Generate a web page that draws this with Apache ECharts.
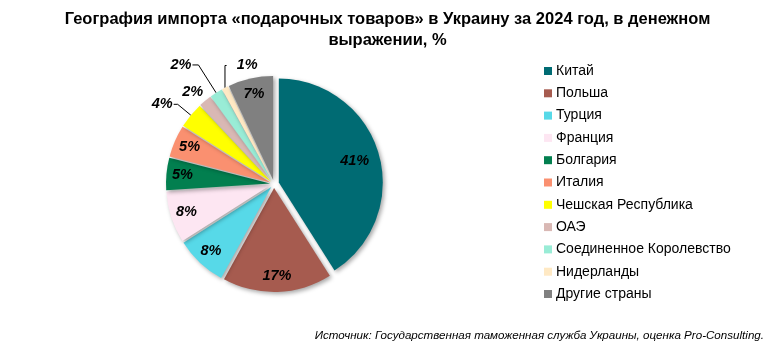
<!DOCTYPE html>
<html>
<head>
<meta charset="utf-8">
<script src="https://cdn.jsdelivr.net/npm/echarts@6/dist/echarts.min.js"></script>
<style>
  html, body { margin: 0; padding: 0; background: #fff; }
  #chart { width: 775px; height: 352px; }
</style>
</head>
<body>
<div id="chart"></div>
<script>
// данные диаграммы
var countries = ['Китай', 'Польша', 'Турция', 'Франция', 'Болгария', 'Италия',
  'Чешская Республика', 'ОАЭ', 'Соединенное Королевство', 'Нидерланды', 'Другие страны'];
var shares = [41, 17, 8, 8, 5, 5, 4, 2, 2, 1, 7];
var colors = ['#006b73', '#a65b4f', '#57d9e8', '#fde6f2', '#027f4f', '#fa9070',
  '#ffff00', '#d9b8b4', '#99ecd6', '#ffe9c4', '#808080'];

var myChart = echarts.init(document.getElementById('chart'));

var FONT = '"Liberation Sans", Arial, sans-serif';
var CENTER = [274, 184];
var R = 104;
var none = 'rgba(0,0,0,0)';
var shadow = {
  shadowBlur: 4,
  shadowOffsetX: 2,
  shadowOffsetY: 2,
  shadowColor: 'rgba(0,0,0,0.35)'
};
var labelFont = {
  fontFamily: FONT,
  fontSize: 14.5,
  fontWeight: 'bold',
  fontStyle: 'italic',
  color: '#000'
};

// маленькие сектора подписываются снаружи
// (у Нидерландов выноска уходит вправо и подпись стоит справа)
var outside = {
  'Чешская Республика': { length: 17, length2: 4, dist: 1, line: true },
  'ОАЭ': { length: 11, length2: 0, dist: -5, line: false },
  'Соединенное Королевство': { length: 33, length2: 6, dist: 1, line: true },
  'Нидерланды': { length: 25, length2: -13, dist: -31, line: true }
};

// основной пирог (без Китая)
var baseData = countries.map(function (n, i) {
  return {
    name: n,
    value: shares[i],
    selected: true,
    itemStyle: i === 0 ? { color: none, shadowColor: none } : { color: colors[i] }
  };
});

// Китай, выдвинут сильнее
function chinaOnly(visible) {
  return countries.map(function (n, i) {
    return {
      name: n,
      value: shares[i],
      selected: i === 0,
      label: { show: i === 0 && !visible },
      itemStyle: (i === 0 && visible) ? { color: colors[0] } : { color: none, shadowColor: none }
    };
  });
}

// подписи остальных секторов
var labelData = countries.map(function (n, i) {
  var o = outside[n];
  var item = {
    name: n,
    value: shares[i],
    selected: true,
    label: { show: i !== 0 },
    itemStyle: { color: none, shadowColor: none }
  };
  if (o) {
    item.label.position = 'outside';
    item.label.distanceToLabelLine = o.dist;
    item.labelLine = { show: o.line, length: o.length, length2: o.length2 };
  }
  return item;
});

var option = {
  animation: false,
  title: {
    text: 'География импорта «подарочных товаров» в Украину за 2024 год, в денежном\nвыражении, %',
    left: 'center',
    top: 4,
    textStyle: {
      fontFamily: FONT,
      fontSize: 16.5,
      fontWeight: 'bold',
      color: '#000',
      lineHeight: 21
    }
  },
  legend: {
    orient: 'vertical',
    left: 539,
    top: 59,
    icon: 'rect',
    itemWidth: 8,
    itemHeight: 8,
    itemGap: 8.3,
    selectedMode: false,
    textStyle: { fontFamily: FONT, fontSize: 14, color: '#000', padding: [0, 0, 0, -1] },
    data: countries.map(function (n, i) {
      return { name: n, itemStyle: { color: colors[i] } };
    })
  },
  graphic: [{
    type: 'text',
    right: 11,
    top: 330,
    style: {
      text: 'Источник: Государственная таможенная служба Украины, оценка Pro-Consulting.',
      font: 'italic 11.6px ' + FONT,
      fill: '#000'
    }
  }],
  series: [{
    name: 'base',
    type: 'pie',
    center: CENTER,
    radius: R,
    startAngle: 90,
    selectedMode: 'multiple',
    selectedOffset: 4,
    emphasis: { disabled: true },
    label: { show: false },
    labelLine: { show: false },
    itemStyle: shadow,
    data: baseData
  }, {
    name: 'china',
    type: 'pie',
    center: CENTER,
    radius: R,
    startAngle: 90,
    selectedMode: 'multiple',
    selectedOffset: 5,
    emphasis: { disabled: true },
    label: { show: false },
    labelLine: { show: false },
    itemStyle: shadow,
    data: chinaOnly(true)
  }, {
    name: 'chinaLabel',
    type: 'pie',
    center: CENTER,
    radius: [48, R],
    startAngle: 90,
    silent: true,
    selectedMode: 'multiple',
    selectedOffset: 5,
    emphasis: { disabled: true },
    label: Object.assign({ position: 'inside', formatter: '{c}%' }, labelFont),
    labelLine: { show: false },
    data: chinaOnly(false)
  }, {
    name: 'labels',
    type: 'pie',
    center: CENTER,
    radius: [66, R],
    startAngle: 90,
    silent: true,
    avoidLabelOverlap: false,
    selectedMode: 'multiple',
    selectedOffset: 4,
    emphasis: { disabled: true },
    label: Object.assign({ position: 'inside', formatter: '{c}%' }, labelFont),
    labelLine: {
      lineStyle: { color: '#000', width: 1 }
    },
    data: labelData
  }]
};

myChart.setOption(option);
</script>
</body>
</html>
